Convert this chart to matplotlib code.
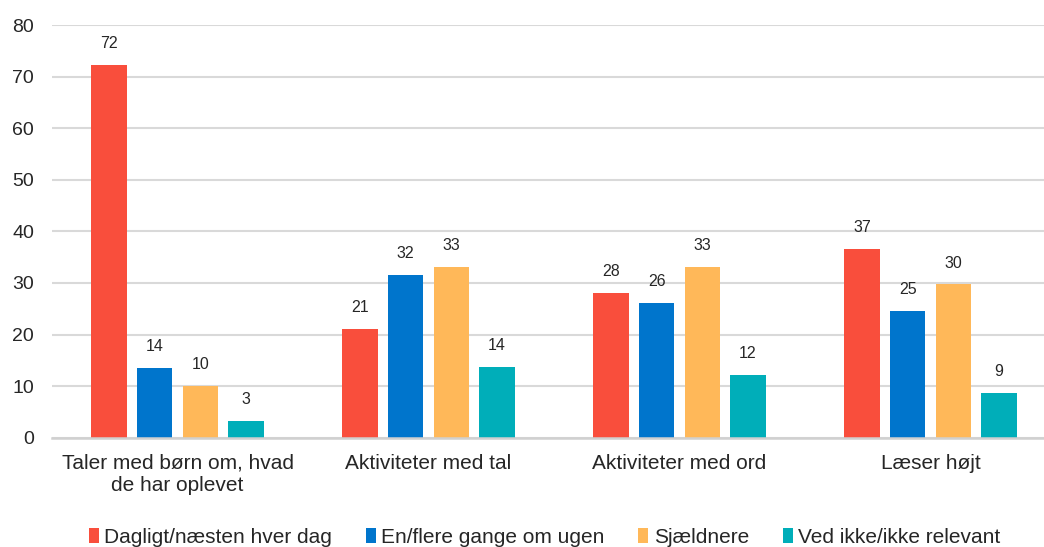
import numpy as np
import matplotlib.pyplot as plt
from matplotlib.patches import Patch

plt.rcParams['font.family'] = ['Liberation Sans', 'DejaVu Sans']

categories = ["Taler med børn om, hvad\nde har oplevet", "Aktiviteter med tal",
              "Aktiviteter med ord", "Læser højt"]
series = ["Dagligt/næsten hver dag", "En/flere gange om ugen",
          "Sjældnere", "Ved ikke/ikke relevant"]
dagligt = [72.2, 21.0, 28.0, 36.6]
ugentligt = [13.6, 31.5, 26.2, 24.6]
sjaeldnere = [10.1, 33.1, 33.1, 29.7]
ved_ikke = [3.2, 13.8, 12.1, 8.6]
colors = ["#F94E3C", "#0075CC", "#FFB859", "#00AEB9"]

values = [dagligt, ugentligt, sjaeldnere, ved_ikke]

fig = plt.figure(figsize=(10.44, 5.47), dpi=100)
# akserne går lidt ud over højre kant
ax = fig.add_axes([52 / 1044, 109.3 / 547, 1004 / 1044, 412.7 / 547])

x = np.arange(len(categories))
width = 0.141
step = 0.182
for i, (vals, col) in enumerate(zip(values, colors)):
    pos = x + (i - 1.5) * step
    bars = ax.bar(pos, vals, width, color=col, zorder=3)
    for b, v in zip(bars, vals):
        ax.annotate(f"{v:.0f}", (b.get_x() + b.get_width() / 2, v),
                    xytext=(0, 10), textcoords="offset points",
                    ha="center", va="bottom", fontsize=11.5, color="#262626")

ax.set_xlim(-0.5, 3.5)
ax.set_ylim(0, 80)
ax.set_yticks(range(0, 81, 10))
ax.set_xticks(x)
ax.set_xticklabels(categories, fontsize=15, color="#262626", linespacing=1.25)
ax.tick_params(axis="y", length=0, pad=13, labelsize=14, labelcolor="#262626")
ax.tick_params(axis="x", length=0, pad=11.5)
ax.grid(axis="y", color="#D9D9D9", linewidth=1.5, zorder=0)
for s in ["top", "right", "left"]:
    ax.spines[s].set_visible(False)
ax.spines["bottom"].set_color("#D0D0D0")
ax.spines["bottom"].set_linewidth(1.8)
ax.spines["bottom"].set_zorder(4)

handles = [Patch(facecolor=c) for c in colors]
fig.legend(handles, series, loc="center", bbox_to_anchor=(0.5216, 0.018),
           ncol=4, frameon=False, fontsize=15, handlelength=0.48,
           handleheight=0.68, handletextpad=0.25, columnspacing=1.63,
           labelcolor="#262626", borderpad=0)

fig.savefig("out.png", dpi=100)
